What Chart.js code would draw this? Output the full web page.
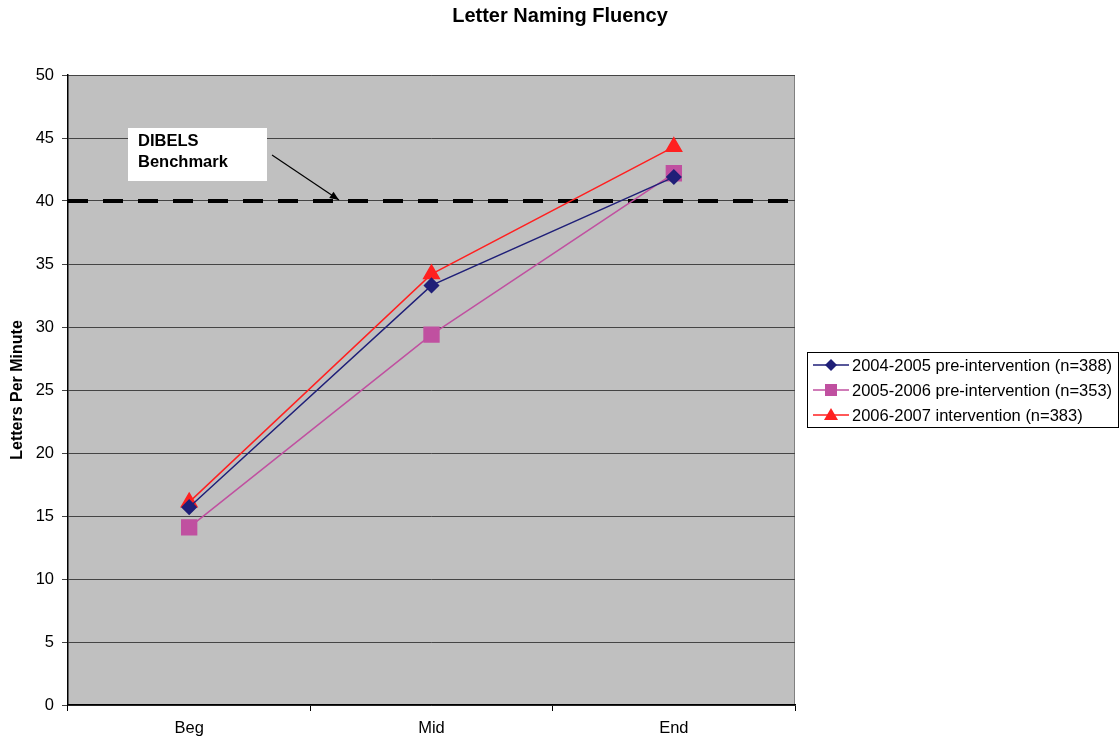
<!DOCTYPE html>
<html>
<head>
<meta charset="utf-8">
<script src="https://cdn.jsdelivr.net/npm/chart.js@4.4.1/dist/chart.umd.min.js"></script>
<style>
  html, body { margin: 0; padding: 0; background: #ffffff; }
  #wrap { width: 1119px; height: 740px; }
</style>
</head>
<body>
<div id="wrap"><canvas id="chart0"></canvas></div>
<script>
const categories = ["Beg", "Mid", "End"];
const seriesLabels = [
    "2004-2005 pre-intervention (n=388)",
    "2005-2006 pre-intervention (n=353)",
    "2006-2007 intervention (n=383)",
];
const values2004 = [15.7, 33.3, 41.9];
const values2005 = [14.1, 29.4, 42.2];
const values2006 = [16.1, 34.2, 44.3];
const benchmark = 40;
const yTicks = [0, 5, 10, 15, 20, 25, 30, 35, 40, 45, 50];

const FONT = "'Liberation Sans', Arial, sans-serif";

// title, benchmark line, callout and boxed legend
const extras = {
    id: "extras",
    beforeDatasetsDraw(chart) {
        const ctx = chart.ctx;
        const area = chart.chartArea;
        const y = chart.scales.y.getPixelForValue(benchmark);
        ctx.save();
        ctx.strokeStyle = "#000000";
        ctx.lineWidth = 4;
        ctx.setLineDash([20, 15]);
        ctx.beginPath();
        ctx.moveTo(area.left, y);
        ctx.lineTo(area.right, y);
        ctx.stroke();
        ctx.restore();
    },
    afterDraw(chart) {
        const ctx = chart.ctx;
        const yScale = chart.scales.y;
        ctx.save();

        // title
        ctx.fillStyle = "#000000";
        ctx.font = "bold 20px " + FONT;
        ctx.textAlign = "center";
        ctx.textBaseline = "middle";
        ctx.fillText("Letter Naming Fluency", 560, 16);

        // callout box
        ctx.fillStyle = "#ffffff";
        ctx.fillRect(128, 128, 139, 53);
        ctx.fillStyle = "#000000";
        ctx.font = "bold 16.5px " + FONT;
        ctx.textAlign = "left";
        ctx.fillText("DIBELS", 138, 141);
        ctx.fillText("Benchmark", 138, 162);

        // arrow
        const tipX = 339, tipY = yScale.getPixelForValue(benchmark) - 1;
        const sx = 272, sy = 155;
        ctx.strokeStyle = "#000000";
        ctx.lineWidth = 1.2;
        ctx.beginPath();
        ctx.moveTo(sx, sy);
        ctx.lineTo(tipX, tipY);
        ctx.stroke();
        const ang = Math.atan2(tipY - sy, tipX - sx);
        ctx.beginPath();
        ctx.moveTo(tipX, tipY);
        ctx.lineTo(tipX - 10 * Math.cos(ang - 0.4), tipY - 10 * Math.sin(ang - 0.4));
        ctx.lineTo(tipX - 10 * Math.cos(ang + 0.4), tipY - 10 * Math.sin(ang + 0.4));
        ctx.closePath();
        ctx.fill();

        // legend
        ctx.strokeStyle = "#000000";
        ctx.lineWidth = 1;
        ctx.strokeRect(807.5, 352.5, 311, 75);
        ctx.font = "16.5px " + FONT;
        chart.data.datasets.forEach((ds, i) => {
            const ly = 365 + i * 25;
            ctx.strokeStyle = ds.borderColor;
            ctx.lineWidth = 1.5;
            ctx.beginPath();
            ctx.moveTo(813, ly);
            ctx.lineTo(849, ly);
            ctx.stroke();
            ctx.fillStyle = ds.backgroundColor;
            ctx.beginPath();
            if (ds.pointStyle === "rectRot") {
                ctx.moveTo(831, ly - 6); ctx.lineTo(837, ly); ctx.lineTo(831, ly + 6); ctx.lineTo(825, ly);
            } else if (ds.pointStyle === "rect") {
                ctx.rect(825, ly - 6, 12, 12);
            } else {
                ctx.moveTo(831, ly - 7); ctx.lineTo(838, ly + 5); ctx.lineTo(824, ly + 5);
            }
            ctx.closePath();
            ctx.fill();
            ctx.fillStyle = "#000000";
            ctx.textAlign = "left";
            ctx.fillText(ds.label, 852, ly + 1);
        });
        ctx.restore();
    },
};

const plotBg = {
    id: "plotBg",
    beforeDraw(chart) {
        const a = chart.chartArea;
        const ctx = chart.ctx;
        ctx.save();
        ctx.fillStyle = "#c0c0c0";
        ctx.fillRect(a.left, a.top, a.right - a.left, a.bottom - a.top);
        ctx.strokeStyle = "#808080";
        ctx.lineWidth = 1;
        ctx.beginPath();
        ctx.moveTo(a.left, a.top + 0.5);
        ctx.lineTo(a.right - 0.5, a.top + 0.5);
        ctx.lineTo(a.right - 0.5, a.bottom);
        ctx.stroke();
        ctx.restore();
    },
};

const ctx = document.getElementById("chart0").getContext("2d");
new Chart(ctx, {
    type: "line",
    data: {
        labels: categories,
        datasets: [
            {
                label: seriesLabels[0],
                data: values2004,
                borderColor: "#1f1f78",
                backgroundColor: "#1f1f78",
                borderWidth: 1.5,
                pointStyle: "rectRot",
                pointRadius: 7,
                pointHoverRadius: 7,
            },
            {
                label: seriesLabels[1],
                data: values2005,
                borderColor: "#c050a0",
                backgroundColor: "#c050a0",
                borderWidth: 1.5,
                pointStyle: "rect",
                pointRadius: 10.5,
                pointHoverRadius: 10.5,
            },
            {
                label: seriesLabels[2],
                data: values2006,
                borderColor: "#ff2020",
                backgroundColor: "#ff2020",
                borderWidth: 1.5,
                pointStyle: "triangle",
                pointRadius: 9,
                pointHoverRadius: 9,
            },
        ],
    },
    options: {
        responsive: true,
        maintainAspectRatio: false,
        animation: false,
        layout: { padding: { top: 75, right: 324, left: 0, bottom: 0 } },
        scales: {
            x: {
                offset: true,
                afterFit(scale) { scale.height = 35; },
                grid: {
                    offset: true,
                    drawOnChartArea: false,
                    color: "#000000",
                    tickLength: 6,
                },
                border: { color: "#000000", width: 1.5 },
                ticks: { color: "#000000", font: { family: FONT, size: 16.5 }, padding: 8 },
            },
            y: {
                min: 0,
                max: 50,
                afterFit(scale) { scale.width = 68; },
                afterBuildTicks(scale) { scale.ticks = yTicks.map(v => ({ value: v })); },
                grid: {
                    color: "#444444",
                    lineWidth: 1,
                    tickLength: 6,
                },
                border: { color: "#000000", width: 1.5 },
                ticks: { color: "#000000", font: { family: FONT, size: 16.5 }, padding: 8 },
                title: {
                    display: true,
                    text: "Letters Per Minute",
                    color: "#000000",
                    font: { family: FONT, size: 16, weight: "bold" },
                    padding: { top: 8, bottom: 0 },
                },
            },
        },
        plugins: {
            legend: { display: false },
            tooltip: { enabled: false },
        },
    },
    plugins: [plotBg, extras],
});
</script>
</body>
</html>
